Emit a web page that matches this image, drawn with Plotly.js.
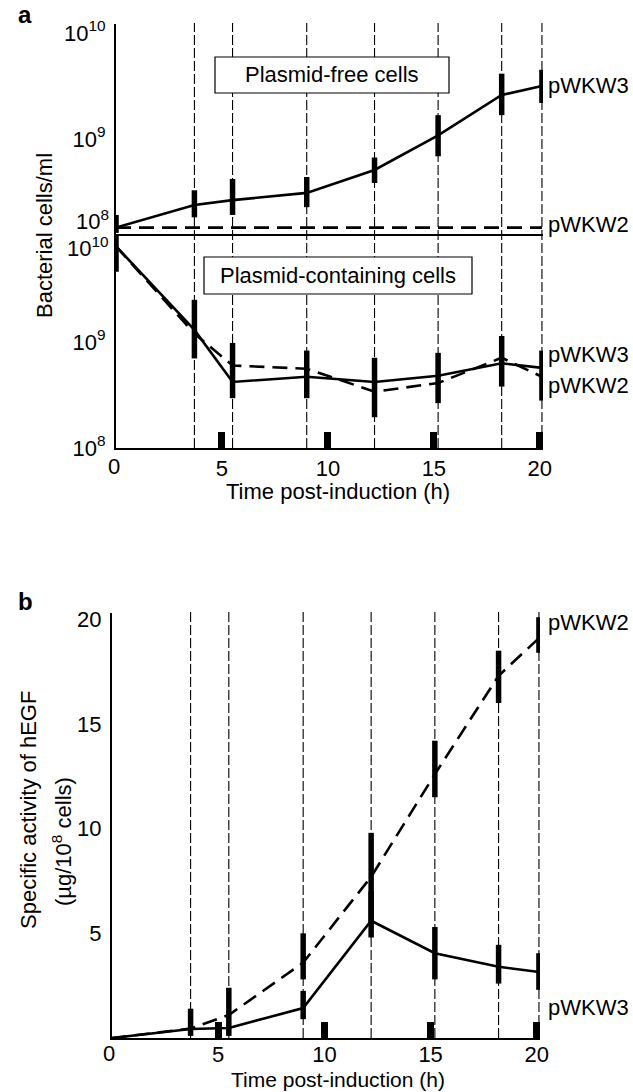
<!DOCTYPE html>
<html><head><meta charset="utf-8">
<script src="https://cdn.plot.ly/plotly-3.0.1.min.js"></script>
<style>html,body{margin:0;padding:0;background:#fff}</style>
</head><body><div id="chart" style="width:633px;height:1092px"></div>
<script>
// Sampling times (h post-induction)
const times = [0, 3.7, 5.5, 9, 12.2, 15.2, 18.2, 20.1];
const xTickVals = [5, 10, 15, 20];
// Log-axis tick labels
const upperTickVals = [1e9, 1e10];
const upperTickText = ['10<sup>9</sup>', '10<sup>10</sup>'];
const lowerTickVals = [1e8, 1e9];
const lowerTickText = ['10<sup>8</sup>', '10<sup>9</sup>'];
// Panel a, plasmid-free cells (cells/ml)
const freeW3   = [1.2e8, 1.96e8, 2.18e8, 2.55e8, 4.2e8, 8.9e8, 2.14e9, 2.6e9];
const freeW3Hi = [1.58e8, 2.7e8, 3.45e8, 3.6e8, 5.5e8, 1.38e9, 3.4e9, 3.7e9];
const freeW3Lo = [1.07e8, 1.5e8, 1.58e8, 1.87e8, 3.16e8, 5.65e8, 1.38e9, 1.8e9];
const freeW2   = [1.2e8, 1.2e8, 1.2e8, 1.2e8, 1.2e8, 1.2e8, 1.2e8, 1.2e8];
// Panel a, plasmid-containing cells (cells/ml)
const contW3   = [8e9, 1.3e9, 4.2e8, 4.7e8, 4.2e8, 4.8e8, 6.3e8, 5.7e8];
const contW3Hi = [1.0e10, 2.5e9, 9.8e8, 8.3e8, 7.1e8, 7.9e8, 1.14e9, 8.3e8];
const contW3Lo = [4.6e9, 7e8, 2.95e8, 2.95e8, 1.95e8, 2.65e8, 3.8e8, 2.8e8];
const contW2   = [8e9, 1.2e9, 6.0e8, 5.6e8, 3.4e8, 4.1e8, 7.1e8, 4.7e8];
// Panel b, specific activity of hEGF (ug/10^8 cells)
const hegfW2   = [0, 0.45, 1.1, 3.6, 7.7, 12.6, 17.3, 19.1];
const hegfW2Hi = [0, 1.4, 2.4, 5.0, 9.8, 14.2, 18.5, 20.1];
const hegfW2Lo = [0, 0.1, 0.1, 2.8, 5.5, 11.5, 16.0, 18.4];
const hegfW3   = [0, 0.43, 0.48, 1.43, 5.6, 4.05, 3.4, 3.15];
const hegfW3Hi = [0, 0.43, 0.48, 2.25, 7.0, 5.3, 4.45, 4.05];
const hegfW3Lo = [0, 0.43, 0.48, 0.9, 4.8, 2.8, 2.6, 2.3];

const W = 633, H = 1092;
const px = v => v / W, py = v => 1 - v / H;
const FONT = 'Liberation Sans, Arial, Helvetica, sans-serif';
const plus = (hi, y) => hi.map((h, i) => h - y[i]);
const minus = (lo, y) => lo.map((l, i) => y[i] - l);
const solid = {color: '#000', width: 2.6};
const dashed = {color: '#000', width: 2.6, dash: '15px,8px'};
const err = (hi, lo, y) => ({type: 'data', symmetric: false, array: plus(hi, y), arrayminus: minus(lo, y),
  thickness: 5.5, width: 0, color: '#000'});

const traces = [
  {x: times, y: freeW2, xaxis: 'x', yaxis: 'y', mode: 'lines', line: dashed, name: 'pWKW2 plasmid-free'},
  {x: times, y: freeW3, xaxis: 'x', yaxis: 'y', mode: 'lines', line: solid, name: 'pWKW3 plasmid-free',
   error_y: err(freeW3Hi, freeW3Lo, freeW3), cliponaxis: false},
  {x: times, y: contW2, xaxis: 'x', yaxis: 'y2', mode: 'lines', line: dashed, name: 'pWKW2 plasmid-containing'},
  {x: times, y: contW3, xaxis: 'x', yaxis: 'y2', mode: 'lines', line: solid, name: 'pWKW3 plasmid-containing',
   error_y: err(contW3Hi, contW3Lo, contW3), cliponaxis: false},
  {x: times, y: hegfW2, xaxis: 'x2', yaxis: 'y3', mode: 'lines', line: dashed, name: 'pWKW2 hEGF',
   error_y: err(hegfW2Hi, hegfW2Lo, hegfW2), cliponaxis: false},
  {x: times, y: hegfW3, xaxis: 'x2', yaxis: 'y3', mode: 'lines', line: solid, name: 'pWKW3 hEGF',
   error_y: err(hegfW3Hi, hegfW3Lo, hegfW3), cliponaxis: false}
];

const tickFont = {family: FONT, size: 22, color: '#000'};
const xCommon = {
  tickmode: 'array', tickvals: xTickVals, ticks: 'inside', ticklen: 16, tickwidth: 7, tickcolor: '#000',
  showline: true, linecolor: '#000', linewidth: 2, showgrid: false, zeroline: false,
  tickfont: tickFont, ticklabelstandoff: 0
};
const yCommon = {
  showline: true, linecolor: '#000', linewidth: 2, showgrid: false, zeroline: false,
  ticks: '', tickfont: tickFont, ticklabelstandoff: 4
};

const vlinesA = times.slice(1).map(t => ({type: 'line', xref: 'x', yref: 'paper', x0: t, x1: t,
  y0: py(448), y1: py(23), layer: 'below', line: {color: '#000', width: 1.1, dash: '10px,3px'}}));
const vlinesB = times.slice(1).map(t => ({type: 'line', xref: 'x2', yref: 'paper', x0: t, x1: t,
  y0: py(1038), y1: py(612), layer: 'below', line: {color: '#000', width: 1.1, dash: '10px,3px'}}));
const boxes = [
  {type: 'rect', xref: 'paper', yref: 'paper', x0: px(215), x1: px(449), y0: py(93), y1: py(57),
   fillcolor: '#fff', line: {color: '#000', width: 1.2}, layer: 'above'},
  {type: 'rect', xref: 'paper', yref: 'paper', x0: px(204), x1: px(472), y0: py(294), y1: py(257),
   fillcolor: '#fff', line: {color: '#000', width: 1.2}, layer: 'above'}
];

const txt = (text, x, y, opts) => Object.assign({text, xref: 'paper', yref: 'paper', x: px(x), y: py(y),
  showarrow: false, font: {family: FONT, size: 22, color: '#000'}, xanchor: 'center', yanchor: 'middle'}, opts || {});

const annotations = [
  txt('<b>a</b>', 25, 15, {font: {family: FONT, size: 24, color: '#000'}}),
  txt('<b>b</b>', 25, 601, {font: {family: FONT, size: 24, color: '#000'}}),
  txt('Plasmid-free cells', 332, 75),
  txt('Plasmid-containing cells', 338, 275),
  txt('Bacterial cells/ml', 44, 236, {textangle: -90}),
  txt('Time post-induction (h)', 338, 492),
  txt('Time post-induction (h)', 338, 1079, {font: {family: FONT, size: 21, color: '#000'}, borderpad: 0}),
  txt('Specific activity of hEGF', 28, 810, {textangle: -90}),
  txt('(\u00b5g/10<sup>8</sup> cells)', 62, 842, {textangle: -90}),
  txt('pWKW3', 546, 86, {xanchor: 'left'}),
  txt('pWKW2', 546, 225, {xanchor: 'left'}),
  txt('pWKW3', 546, 355, {xanchor: 'left'}),
  txt('pWKW2', 546, 385, {xanchor: 'left'}),
  txt('pWKW2', 546, 622, {xanchor: 'left'}),
  txt('pWKW3', 546, 1007, {xanchor: 'left'}),
  txt('10<sup>8</sup>', 111, 220, {xanchor: 'right'}),
  txt('10<sup>10</sup>', 111, 247, {xanchor: 'right'}),
  txt('0', 114, 466),
  txt('0', 109, 1053)
];

const layout = {
  width: W, height: H, margin: {l: 0, r: 0, t: 0, b: 0},
  paper_bgcolor: '#fff', plot_bgcolor: 'rgba(0,0,0,0)', showlegend: false,
  font: {family: FONT, size: 22, color: '#000'},
  xaxis: Object.assign({}, xCommon, {domain: [px(116), px(543)], anchor: 'y2', mirror: true, range: [0, 20.15]}),
  yaxis: Object.assign({}, yCommon, {domain: [py(236), py(24)], anchor: 'x', type: 'log', range: [8, 10],
    tickmode: 'array', tickvals: upperTickVals, ticktext: upperTickText, ticklabelshift: 9}),
  yaxis2: Object.assign({}, yCommon, {domain: [py(448), py(236)], anchor: 'x', type: 'log', range: [8, 10],
    tickmode: 'array', tickvals: lowerTickVals, ticktext: lowerTickText}),
  xaxis2: Object.assign({}, xCommon, {domain: [px(112), px(540)], anchor: 'y3', range: [0, 20.15],
    ticklabelstandoff: -4}),
  yaxis3: Object.assign({}, yCommon, {domain: [py(1038), py(613)], anchor: 'x2', range: [0, 20.3],
    tickmode: 'array', tickvals: [5, 10, 15, 20]}),
  shapes: vlinesA.concat(vlinesB, boxes),
  annotations: annotations
};

Plotly.newPlot('chart', traces, layout, {staticPlot: true, displayModeBar: false});
</script>
</body></html>
